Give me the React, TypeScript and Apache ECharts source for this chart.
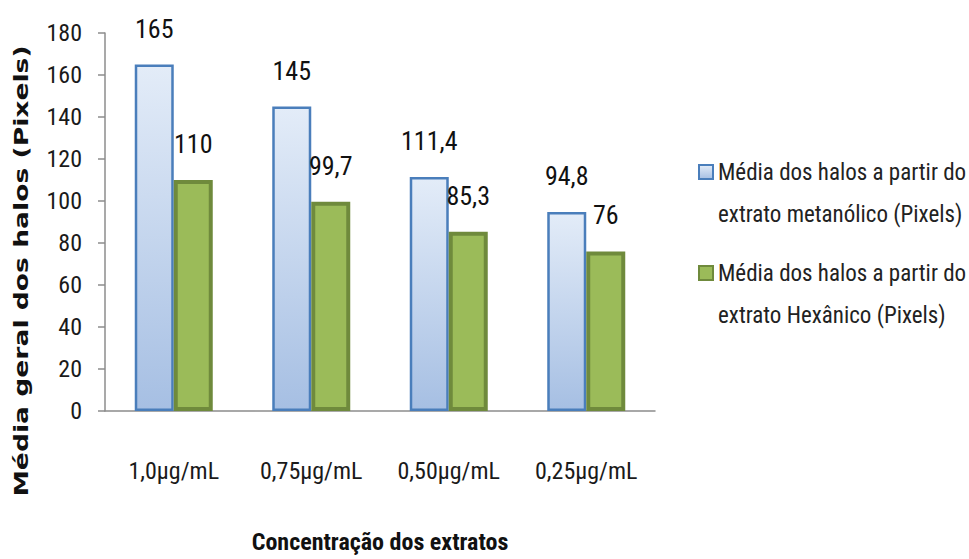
import React, { useEffect, useRef } from "react";
import * as echarts from "echarts";

const categories = ["1,0µg/mL", "0,75µg/mL", "0,50µg/mL", "0,25µg/mL"];
const metanolico = [165, 145, 111.4, 94.8];
const hexanico = [110, 99.7, 85.3, 76];
const yTicks = { min: 0, max: 180, interval: 20 };

const seriesNames = [
  "Média dos halos a partir do\nextrato metanólico (Pixels)",
  "Média dos halos a partir do\nextrato Hexânico (Pixels)",
];
const yTitle = "Média geral dos halos (Pixels)";
const xTitle = "Concentração dos extratos";

const NARROW = '"Roboto Condensed", "Carlito", sans-serif';

const fmt = (v: number) => String(v).replace(".", ",");

// One legend block per series; a leading blank line keeps the swatch
// level with the first line of its two-line caption.
const legendBlock = (name: string, top: number) => ({
  data: [name],
  orient: "vertical",
  left: 698,
  top,
  padding: 0,
  itemWidth: 14,
  itemHeight: 14,
  icon: "rect",
  formatter: (n: string) => "\n" + n,
  textStyle: { fontFamily: NARROW, fontSize: 23, color: "#222", lineHeight: 42 },
});

export default function App() {
  const ref = useRef<HTMLDivElement>(null);

  useEffect(() => {
    if (!ref.current) return;
    const chart = echarts.init(ref.current, undefined, { renderer: "svg" });

    const labelStyle = {
      show: true,
      position: "top" as const,
      distance: 23,
      color: "#111",
      fontSize: 26,
      fontFamily: NARROW,
      formatter: (p: any) => fmt(p.value),
    };

    chart.setOption({
      animation: false,
      backgroundColor: "#ffffff",
      textStyle: { fontFamily: NARROW },
      grid: { left: 105, width: 550, top: 33, height: 382, containLabel: false },
      legend: [legendBlock(seriesNames[0], 109), legendBlock(seriesNames[1], 210)],
      graphic: [
        {
          type: "text",
          x: 21,
          y: 271,
          rotation: Math.PI / 2,
          scaleX: 1.4,
          style: {
            text: yTitle,
            font: 'bold 19px "DejaVu Sans", sans-serif',
            fill: "#111",
            align: "center",
            verticalAlign: "middle",
          },
        },
      ],
      xAxis: {
        type: "category",
        data: categories,
        name: xTitle,
        nameLocation: "middle",
        nameGap: 119,
        nameTextStyle: { fontFamily: NARROW, fontSize: 24, color: "#111", fontWeight: "bold" },
        axisLine: { lineStyle: { color: "#8c8c8c", width: 1.5 } },
        axisTick: { show: false },
        axisLabel: { margin: 48, fontSize: 24, color: "#1a1a1a", fontFamily: NARROW },
      },
      yAxis: {
        type: "value",
        min: yTicks.min,
        max: yTicks.max,
        interval: yTicks.interval,
        splitLine: { show: false },
        axisLine: { show: true, lineStyle: { color: "#8c8c8c", width: 1.5 } },
        axisTick: { show: true, length: 7, lineStyle: { color: "#8c8c8c", width: 1.5 } },
        axisLabel: { margin: 23, fontSize: 24, color: "#1a1a1a", fontFamily: NARROW },
      },
      series: [
        {
          name: seriesNames[0],
          type: "bar",
          data: metanolico,
          barWidth: 39,
          barGap: "0%",
          itemStyle: {
            color: new echarts.graphic.LinearGradient(0, 0, 0, 1, [
              { offset: 0, color: "#e3ecf8" },
              { offset: 1, color: "#a6bfe3" },
            ]),
            borderColor: "#4a7ebb",
            borderWidth: 2.5,
          },
          label: labelStyle,
        },
        {
          name: seriesNames[1],
          type: "bar",
          data: hexanico,
          barWidth: 39,
          itemStyle: {
            color: "#9bbb59",
            borderColor: "#6f8a3c",
            borderWidth: 4,
          },
          label: labelStyle,
        },
      ],
    });

    return () => chart.dispose();
  }, []);

  return (
    <div
      ref={ref}
      style={{ position: "fixed", left: 0, top: 0, width: 969, height: 559 }}
    />
  );
}
